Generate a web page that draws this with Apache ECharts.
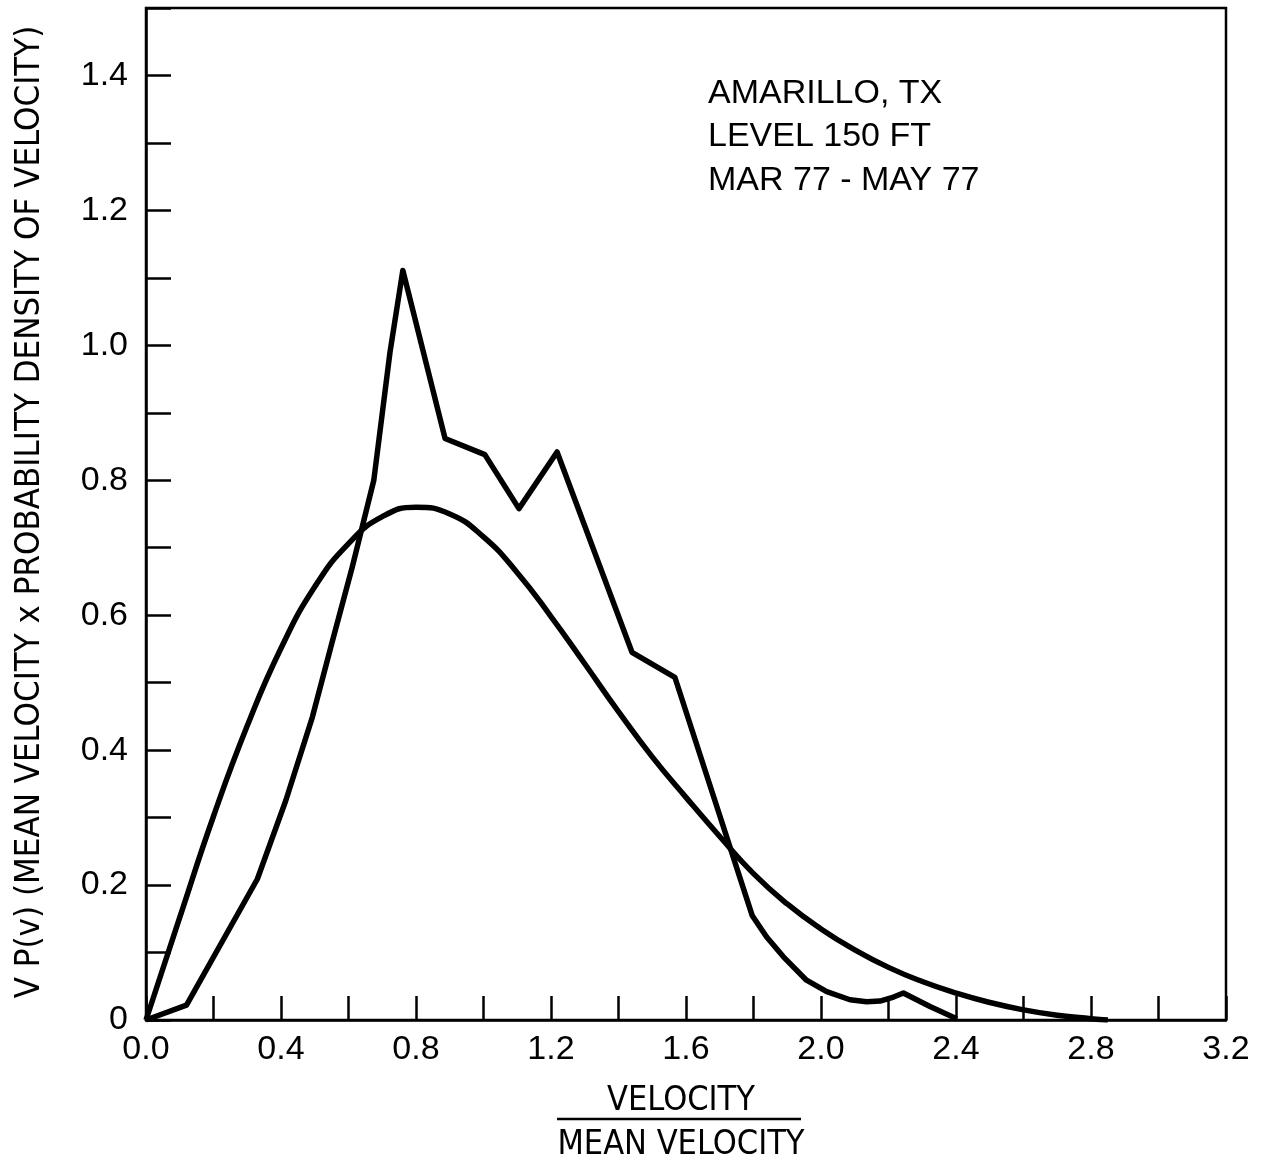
<!DOCTYPE html>
<html>
<head>
<meta charset="utf-8">
<script src="https://cdn.jsdelivr.net/npm/echarts@6/dist/echarts.min.js"></script>
<style>
  html, body { margin: 0; padding: 0; background: #fff; }
  #chart { width: 1262px; height: 1162px; }
</style>
</head>
<body>
<div id="chart"></div>
<script>
// ---- Data ----
// Theoretical smooth curve (velocity / mean velocity, density)
const theoX = [0, 0.1, 0.2, 0.3, 0.4, 0.5, 0.6, 0.7, 0.8, 0.9, 1.0, 1.1, 1.2, 1.3, 1.4, 1.5, 1.6, 1.7, 1.8, 1.9, 2.0, 2.1, 2.2, 2.3, 2.4, 2.5, 2.6, 2.7, 2.8, 2.85];
const theoY = [0, 0.152, 0.302, 0.436, 0.551, 0.642, 0.706, 0.746, 0.76, 0.75, 0.716, 0.663, 0.598, 0.528, 0.457, 0.39, 0.33, 0.272, 0.217, 0.172, 0.135, 0.104, 0.078, 0.057, 0.04, 0.026, 0.015, 0.007, 0.002, 0];

// Measured curve
const measX = [0, 0.12, 0.33, 0.414, 0.493, 0.552, 0.611, 0.675, 0.723, 0.761, 0.886, 1.004, 1.105, 1.218, 1.44, 1.567, 1.796, 1.839, 1.888, 1.957, 2.017, 2.086, 2.135, 2.175, 2.215, 2.244, 2.323, 2.402];
const measY = [0, 0.022, 0.209, 0.325, 0.449, 0.561, 0.671, 0.80, 0.99, 1.111, 0.862, 0.838, 0.758, 0.842, 0.545, 0.508, 0.155, 0.123, 0.094, 0.059, 0.042, 0.030, 0.027, 0.028, 0.034, 0.040, 0.020, 0.002];

// Tick labels
const xTickLabels = ['0.0', '0.4', '0.8', '1.2', '1.6', '2.0', '2.4', '2.8', '3.2'];
const yTickLabels = ['0', '0.2', '0.4', '0.6', '0.8', '1.0', '1.2', '1.4'];

// Text
const yAxisTitle = 'V P(v) (MEAN VELOCITY x PROBABILITY DENSITY OF VELOCITY)';
const xAxisTitleTop = 'VELOCITY';
const xAxisTitleBottom = 'MEAN VELOCITY';
const noteLines = ['AMARILLO, TX', 'LEVEL 150 FT', 'MAR 77 - MAY 77'];

// ---- Chart ----
const narrow = "'Liberation Sans Narrow', 'DejaVu Sans Condensed', 'Liberation Sans', sans-serif";
const regular = "'Liberation Sans', Arial, sans-serif";

const theoData = theoX.map((x, i) => [x, theoY[i]]);
const measData = measX.map((x, i) => [x, measY[i]]);

const chart = echarts.init(document.getElementById('chart'), null, { renderer: 'canvas' });

const option = {
  animation: false,
  backgroundColor: '#fff',
  grid: { left: 146, right: 36, top: 8, bottom: 142, show: true, borderColor: '#000', borderWidth: 2.5, backgroundColor: 'transparent' },
  xAxis: {
    type: 'value', min: 0, max: 3.2, interval: 0.2,
    axisLine: { show: true, lineStyle: { color: '#000', width: 2.5 } },
    axisTick: { show: true, inside: true, length: 24, lineStyle: { color: '#000', width: 2.5 } },
    splitLine: { show: false },
    axisLabel: {
      color: '#000', fontSize: 34, fontFamily: regular, margin: 13,
      formatter: function (v) {
        const k = Math.round(v * 10);
        return k % 4 === 0 ? xTickLabels[k / 4] : '';
      }
    }
  },
  yAxis: {
    type: 'value', min: 0, max: 1.5, interval: 0.1,
    axisLine: { show: true, lineStyle: { color: '#000', width: 2.5 } },
    axisTick: { show: true, inside: true, length: 25, lineStyle: { color: '#000', width: 2.5 } },
    splitLine: { show: false },
    axisLabel: {
      color: '#000', fontSize: 34, fontFamily: regular, margin: 18,
      formatter: function (v) {
        const k = Math.round(v * 10);
        return (k % 2 === 0 && k / 2 < yTickLabels.length) ? yTickLabels[k / 2] : '';
      }
    }
  },
  series: [
    {
      name: 'Theoretical', type: 'line', data: theoData, smooth: true, symbol: 'none',
      lineStyle: { color: '#000', width: 5.5 }, z: 3
    },
    {
      name: 'Measured', type: 'line', data: measData, smooth: false, symbol: 'none',
      lineStyle: { color: '#000', width: 5.5, join: 'round' }, z: 3
    }
  ],
  graphic: [
    {
      type: 'text', x: 30, y: 512, rotation: Math.PI / 2,
      style: { text: yAxisTitle, fontSize: 34.5, fontFamily: narrow, fill: '#000', textAlign: 'center', textVerticalAlign: 'middle' }
    },
    {
      type: 'text', x: 681, y: 1101,
      style: { text: xAxisTitleTop, fontSize: 34, fontFamily: narrow, fill: '#000', textAlign: 'center', textVerticalAlign: 'middle' }
    },
    {
      type: 'line', shape: { x1: 557, y1: 1119, x2: 801, y2: 1119 },
      style: { stroke: '#000', lineWidth: 2.5 }
    },
    {
      type: 'text', x: 681, y: 1145,
      style: { text: xAxisTitleBottom, fontSize: 34, fontFamily: narrow, fill: '#000', textAlign: 'center', textVerticalAlign: 'middle' }
    },
    {
      type: 'text', x: 708, y: 94,
      style: { text: noteLines[0], fontSize: 34, fontFamily: regular, fill: '#000', textAlign: 'left', textVerticalAlign: 'middle' }
    },
    {
      type: 'text', x: 708, y: 137,
      style: { text: noteLines[1], fontSize: 34, fontFamily: regular, fill: '#000', textAlign: 'left', textVerticalAlign: 'middle' }
    },
    {
      type: 'text', x: 708, y: 181,
      style: { text: noteLines[2], fontSize: 34, fontFamily: regular, fill: '#000', textAlign: 'left', textVerticalAlign: 'middle' }
    }
  ]
};

chart.setOption(option);
</script>
</body>
</html>
